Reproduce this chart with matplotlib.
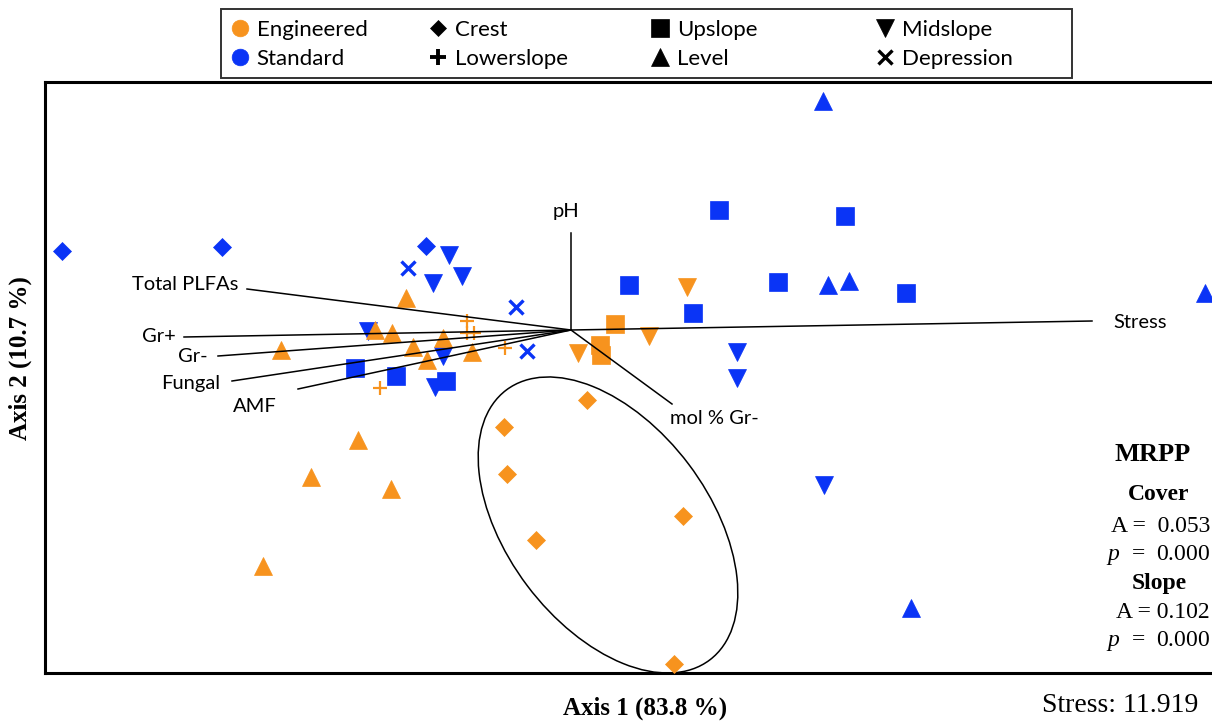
import matplotlib
matplotlib.use('Agg')
import matplotlib.pyplot as plt
from matplotlib.lines import Line2D
from matplotlib.patches import Ellipse, Rectangle

# NMS site scores (Axis 1, Axis 2)
std_crest = [(-5.09, 0.79), (-3.49, 0.83), (-1.45, 0.84)]
std_upslope = [(1.48, 1.20), (2.74, 1.14), (0.58, 0.45), (2.07, 0.48), (1.22, 0.17),
               (3.35, 0.37), (-2.16, -0.38), (-1.75, -0.46), (-1.25, -0.51)]
std_level = [(2.52, 2.29), (2.57, 0.45), (2.78, 0.49), (6.34, 0.37), (3.40, -2.78)]
std_midslope = [(-1.22, 0.75), (-1.38, 0.47), (-1.09, 0.54), (1.66, -0.22), (1.66, -0.48),
                (2.53, -1.55), (-2.03, -0.01), (-1.28, -0.26), (-1.36, -0.57)]
std_depression = [(-1.63, 0.62), (-0.55, 0.23), (-0.44, -0.21)]

eng_crest = [(0.16, -0.70), (-0.67, -0.97), (-0.64, -1.44), (1.12, -1.86), (-0.35, -2.10), (1.03, -3.34)]
eng_upslope = [(0.44, 0.06), (0.29, -0.15), (0.30, -0.25)]
eng_midslope = [(1.16, 0.43), (0.78, -0.06), (0.07, -0.23)]
eng_level = [(-1.65, 0.32), (-2.90, -0.20), (-1.96, 0.00), (-1.79, -0.03), (-1.28, -0.08),
             (-1.58, -0.17), (-1.44, -0.30), (-0.99, -0.22), (-2.13, -1.10), (-2.60, -1.47),
             (-1.80, -1.59), (-3.08, -2.36)]
eng_lowerslope = [(-1.04, 0.09), (-1.04, -0.03), (-0.97, -0.03), (-0.66, -0.18), (-1.91, -0.58)]

# biplot vectors
vec_names = ['pH', 'Total PLFAs', 'Gr+', 'Gr-', 'Fungal', 'AMF', 'Stress', 'mol % Gr-']
vec_x = [0.0, -3.24, -3.87, -3.53, -3.39, -2.73, 5.21, 1.01]
vec_y = [0.97, 0.41, -0.07, -0.26, -0.51, -0.59, 0.09, -0.74]

# ellipse round the engineered crest plots: centre, width, height, angle
ell_center = (0.37, -1.95)
ell_w, ell_h, ell_angle = 3.38, 2.02, -53

ORANGE = '#f7931e'
BLUE = '#0a34f6'
SANS = ['Lato', 'DejaVu Sans']
SERIF = 'Liberation Serif'

plt.rcParams['mathtext.fontset'] = 'custom'
plt.rcParams['mathtext.it'] = 'Liberation Serif:italic'
plt.rcParams['mathtext.rm'] = 'Liberation Serif'

W, H = 1212, 721
fig = plt.figure(figsize=(W / 100, H / 100), dpi=100)
ax = fig.add_axes([45 / W, (H - 673) / H, 1200 / W, 591 / H])
ax.set_xlim(-5.26, 6.74)
ax.set_ylim(-3.43, 2.48)
ax.set_xticks([])
ax.set_yticks([])
for s in ['left', 'top', 'bottom']:
    ax.spines[s].set_linewidth(2.2)
ax.spines['right'].set_visible(False)

styles = {
    'Crest': dict(marker='D', ms=9.4, mew=0.5),
    'Upslope': dict(marker='s', ms=13.5, mew=0.5),
    'Midslope': dict(marker='v', ms=13.5, mew=0.5),
    'Level': dict(marker='^', ms=13.5, mew=0.5),
    'Lowerslope': dict(marker='+', ms=9.5, mew=1.6),
    'Depression': dict(marker='x', ms=10.5, mew=2.4),
}

groups = [
    (std_crest, BLUE, 'Crest'), (std_upslope, BLUE, 'Upslope'), (std_level, BLUE, 'Level'),
    (std_midslope, BLUE, 'Midslope'), (std_depression, BLUE, 'Depression'),
    (eng_crest, ORANGE, 'Crest'), (eng_upslope, ORANGE, 'Upslope'),
    (eng_midslope, ORANGE, 'Midslope'), (eng_level, ORANGE, 'Level'),
    (eng_lowerslope, ORANGE, 'Lowerslope'),
]
for pts, col, slope in groups:
    xs = [p[0] for p in pts]
    ys = [p[1] for p in pts]
    st = styles[slope]
    ax.plot(xs, ys, ls='', marker=st['marker'], ms=st['ms'], mew=st['mew'],
            color=col, mec=col, zorder=3, clip_on=False)

# vector label placement: offset in pixels and alignment
lab_off = {
    'pH': (-5, 22, 'center'),
    'Total PLFAs': (-9, 5, 'right'),
    'Gr+': (-8, 1, 'right'),
    'Gr-': (-10, 0, 'right'),
    'Fungal': (-12, -2, 'right'),
    'AMF': (-21, -17, 'right'),
    'Stress': (21, -1, 'left'),
    'mol % Gr-': (-2, -14, 'left'),
}
for name, vx, vy in zip(vec_names, vec_x, vec_y):
    ax.plot([0, vx], [0, vy], color='black', lw=1.1, zorder=4)
    dx, dy, ha = lab_off[name]
    ax.annotate(name, (vx, vy), xytext=(dx * 0.72, dy * 0.72), textcoords='offset points',
                ha=ha, va='center', fontsize=14.5, family=SANS, zorder=5)

ax.add_patch(Ellipse(ell_center, ell_w, ell_h, angle=ell_angle, fill=False,
                     ec='black', lw=1.1, zorder=2))

# axis titles
fig.text(645 / W, 1 - 708 / H, 'Axis 1 (83.8 %)', ha='center', va='center',
         family=SERIF, fontweight='bold', fontsize=18)
fig.text(20 / W, 1 - 358 / H, 'Axis 2 (10.7 %)', ha='center', va='center', rotation=90,
         family=SERIF, fontweight='bold', fontsize=18)

# MRPP block
fig.text(1153 / W, 1 - 454 / H, 'MRPP', ha='center', va='center', family=SERIF,
         fontweight='bold', fontsize=19)
fig.text(1159 / W, 1 - 495 / H, 'Cover', ha='center', va='center', family=SERIF,
         fontweight='bold', fontsize=17)
fig.text(1210 / W, 1 - 526 / H, 'A =  0.053', ha='right', va='center', family=SERIF, fontsize=17)
fig.text(1210 / W, 1 - 555 / H, r'$p$  =  0.000', ha='right', va='center', family=SERIF, fontsize=17)
fig.text(1159 / W, 1 - 583 / H, 'Slope', ha='center', va='center', family=SERIF,
         fontweight='bold', fontsize=17)
fig.text(1210 / W, 1 - 613 / H, 'A = 0.102', ha='right', va='center', family=SERIF, fontsize=17)
fig.text(1210 / W, 1 - 641 / H, r'$p$  =  0.000', ha='right', va='center', family=SERIF, fontsize=17)
fig.text(1198 / W, 1 - 705 / H, 'Stress: 11.919', ha='right', va='center', family=SERIF, fontsize=20)

# legend: four columns inside one box
def h(marker, col, ms, mew=0.5):
    return Line2D([], [], ls='', marker=marker, color=col, mec=col, ms=ms, mew=mew)

leg_cols = [
    ([h('o', ORANGE, 12), h('o', BLUE, 12)], ['Engineered', 'Standard'], 230),
    ([h('D', 'black', 8.5), h('+', 'black', 12, 2.8)], ['Crest', 'Lowerslope'], 428),
    ([h('s', 'black', 13), h('^', 'black', 13)], ['Upslope', 'Level'], 650),
    ([h('v', 'black', 13), h('x', 'black', 9.5, 2.4)], ['Midslope', 'Depression'], 875),
]
for handles, labels, x0 in leg_cols:
    fig.legend(handles, labels, loc='upper left', bbox_to_anchor=(x0 / W, 1 - 20 / H),
               frameon=False, borderpad=0, borderaxespad=0, handlelength=0.9,
               handletextpad=0.3, labelspacing=0.4, prop={'family': SANS, 'size': 16})
fig.patches.append(Rectangle((221 / W, 1 - 78 / H), 851 / W, 69 / H, transform=fig.transFigure,
                             fill=False, ec='#333333', lw=1.4))

fig.savefig('out.png', dpi=100)
